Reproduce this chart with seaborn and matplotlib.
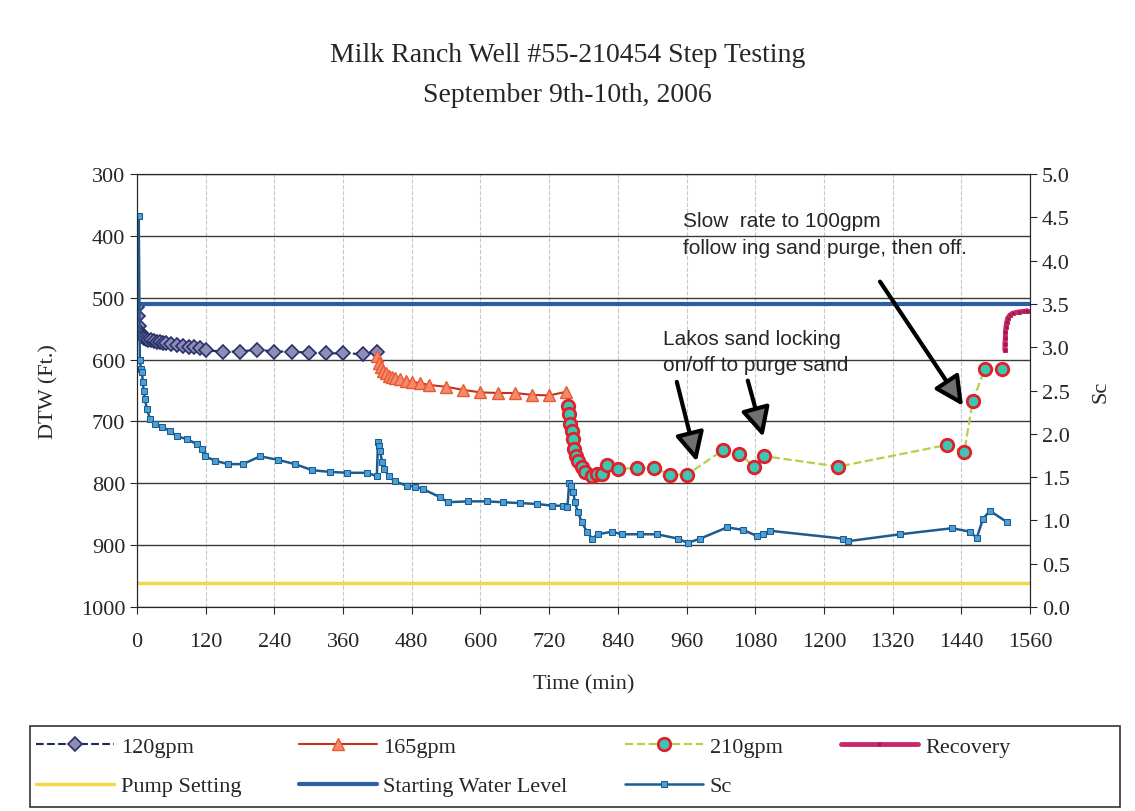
import numpy as np
import pandas as pd
import matplotlib
matplotlib.use("Agg")
import matplotlib.pyplot as plt
import seaborn as sns
from matplotlib.patches import Rectangle

# --- data ---
t_120 = [0, 2, 4, 6, 8, 10, 12, 15, 20, 25, 30, 35, 40, 45, 50, 60, 70, 80, 90, 100, 110,
         120, 150, 180, 210, 240, 270, 300, 330, 360, 395, 420]
dtw_120 = [515, 530, 545, 555, 560, 563, 565, 566, 568, 569, 570, 571, 572, 573, 574, 575, 577,
           578, 579, 580, 582, 585, 587, 587, 584, 587, 587, 589, 590, 590, 591, 588]

t_165 = [420, 423, 426, 430, 435, 440, 445, 450, 460, 470, 480, 495, 510, 540, 570, 600, 630,
         660, 690, 720, 750]
dtw_165 = [595, 605, 612, 618, 622, 626, 628, 630, 632, 634, 636, 638, 641, 644, 649, 653, 654,
           654, 657, 658, 652]

t_210 = [753, 755, 756, 760, 762, 763, 767, 770, 777, 783, 795, 804, 812, 821, 840, 874, 903,
         931, 961, 1024, 1052, 1078, 1095, 1225, 1415, 1445, 1460, 1481, 1511]
dtw_210 = [675, 688, 704, 715, 728, 744, 756, 764, 773, 781, 788, 785, 785, 770, 777, 775, 775,
           786, 786, 746, 752, 773, 756, 773, 738, 749, 667, 615, 615]

t_rec = [1516, 1516, 1517, 1517, 1518, 1519, 1521, 1525, 1530, 1540, 1550, 1555]
dtw_rec = [585, 575, 565, 555, 547, 540, 533, 528, 525, 523, 522, 521]

t_ref = [0, 1560]
pump_setting = [961, 961]
start_level = [510, 510]

t_sc = [3, 5, 7, 9, 10, 12, 14, 17, 23, 31, 44, 58, 70, 87, 105, 113, 119, 136, 159, 185, 215,
        246, 276, 306, 337, 367, 402, 419, 421, 423, 425, 428, 432, 440, 450, 472, 486, 500, 529,
        543, 578, 611, 639, 669, 699, 725, 744, 752, 755, 758, 762, 765, 770, 777, 786, 795, 805,
        830, 847, 879, 908, 945, 962, 984, 1031, 1059, 1083, 1094, 1106, 1233, 1242, 1333, 1424,
        1455, 1467, 1478, 1490, 1520]
sc = [4.52, 2.85, 2.75, 2.71, 2.60, 2.49, 2.40, 2.29, 2.17, 2.11, 2.08, 2.03, 1.97, 1.94, 1.88,
      1.82, 1.74, 1.69, 1.65, 1.65, 1.74, 1.70, 1.65, 1.58, 1.56, 1.55, 1.55, 1.51, 1.91, 1.86,
      1.80, 1.67, 1.59, 1.51, 1.45, 1.40, 1.39, 1.36, 1.27, 1.21, 1.22, 1.22, 1.21, 1.20, 1.19,
      1.17, 1.17, 1.16, 1.43, 1.40, 1.33, 1.21, 1.10, 0.98, 0.87, 0.79, 0.84, 0.87, 0.84, 0.84,
      0.84, 0.79, 0.74, 0.79, 0.92, 0.89, 0.82, 0.84, 0.88, 0.79, 0.76, 0.84, 0.91, 0.87, 0.80,
      1.02, 1.11, 0.98]

sns.set_style("ticks")
plt.rcParams["font.family"] = ["Liberation Serif", "DejaVu Serif"]
plt.rcParams["font.size"] = 16

fig = plt.figure(figsize=(11.35, 8.12), dpi=100)
ax = fig.add_axes([0.1207, 0.2512, 0.7868, 0.5333])

def draw(t, v, axis, **kw):
    df = pd.DataFrame({"t": t, "v": v})
    sns.lineplot(data=df, x="t", y="v", ax=axis, estimator=None, sort=False, **kw)

draw(t_120, dtw_120, ax, color="#1f2a5c", ls="--", lw=1.5, marker="D", ms=7,
     mfc="#8e8eb4", mec="#2a2f6a", mew=1.2, label="120gpm")
draw(t_165, dtw_165, ax, color="#c8301c", lw=1.5, marker="^", ms=9,
     mfc="#f5896a", mec="#e65a34", mew=1.0, label="165gpm")
draw(t_210, dtw_210, ax, color="#b4d04a", ls="--", lw=1.6, marker="o", ms=9,
     mfc="#3ec6b4", mec="#e0202a", mew=2.0, label="210gpm")
draw(t_rec, dtw_rec, ax, color="#c8286a", lw=3.5, marker="s", ms=3,
     mfc="#a01850", mec="#c8286a", label="Recovery")
draw(t_ref, pump_setting, ax, color="#f2d64b", lw=2.5, label="Pump Setting")
draw(t_ref, start_level, ax, color="#2e5da8", lw=3, label="Starting Water Level")

ax.set_xlim(0, 1560)
ax.set_ylim(1000, 300)
ax.set_xticks(np.arange(0, 1561, 120))
ax.set_yticks(np.arange(300, 1001, 100))
ax.set_xlabel("Time (min)", labelpad=17)
ax.set_ylabel("DTW (Ft.)", labelpad=16)
ax.yaxis.grid(True, color="#3a3a3a", lw=1)
ax.xaxis.grid(True, color="#c8c8c8", ls="--", lw=0.8)
ax.tick_params(labelsize=16, length=5)
ax.tick_params(axis="x", pad=13)
for s in ax.spines.values():
    s.set_color("#333333")

ax2 = ax.twinx()
draw(t_sc, sc, ax2, color="#1e5a8c", lw=1.8, marker="s", ms=4, mfc="#4aa0d8", mec="#1e5a8c",
     label="Sc")
ax2.set_ylim(0, 5)
ax2.set_yticks(np.arange(0, 5.01, 0.5))
ax2.set_yticklabels([f"{v:.1f}" for v in np.arange(0, 5.01, 0.5)])
ax2.set_ylabel("Sc", labelpad=16)
ax2.set_xlabel("")
ax2.tick_params(labelsize=16, length=5)
ax2.grid(False)
if ax2.get_legend() is not None:
    ax2.get_legend().remove()

fig.text(0.5, 0.932, "Milk Ranch Well #55-210454 Step Testing", ha="center", va="center",
         fontsize=20)
fig.text(0.5, 0.882, "September 9th-10th, 2006", ha="center", va="center", fontsize=20)

sans = ["Liberation Sans", "DejaVu Sans"]
ax.text(954, 360, "Slow  rate to 100gpm\nfollow ing sand purge, then off.", family=sans,
        fontsize=15, va="top", linespacing=1.5)
ax.text(919, 550, "Lakos sand locking\non/off to purge sand", family=sans, fontsize=15,
        va="top", linespacing=1.5)
arrow = dict(arrowstyle="-|>,head_length=1.1,head_width=0.55", lw=3, ec="black", fc="#707070",
             shrinkA=0, shrinkB=0)
ax.annotate("", xy=(978, 765), xytext=(943, 636), arrowprops=arrow)
ax.annotate("", xy=(1094, 725), xytext=(1067, 634), arrowprops=arrow)
ax.annotate("", xy=(1443, 675), xytext=(1298, 474), arrowprops=arrow)

h1, l1 = ax.get_legend_handles_labels()
h2, l2 = ax2.get_legend_handles_labels()
hd = dict(zip(l1 + l2, h1 + h2))
order = ["120gpm", "Pump Setting", "165gpm", "Starting Water Level", "210gpm", "Sc", "Recovery"]
ax.legend([hd[k] for k in order], order, ncol=4, loc="center left",
          bbox_to_anchor=(0.026, 0.005, 0.87, 0.1), bbox_transform=fig.transFigure,
          mode="expand", frameon=False, fontsize=16, borderaxespad=0,
          handlelength=3.5, handletextpad=0.3, labelspacing=0.85, borderpad=0.3)
fig.patches.append(Rectangle((0.026, 0.005), 0.961, 0.1, transform=fig.transFigure,
                             fill=False, edgecolor="#333333", lw=1.2))

fig.savefig("out.png", dpi=100)
